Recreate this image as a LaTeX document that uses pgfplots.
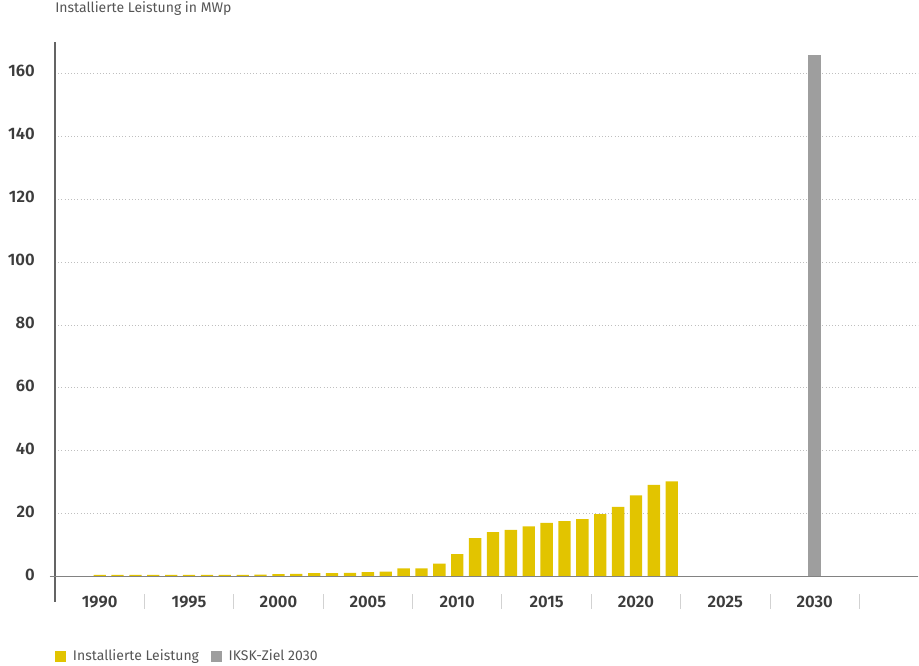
\documentclass[border=0pt]{standalone}
\usepackage{fontspec}
\setmainfont{Fira Sans}[BoldFont={Fira Sans SemiBold}]
\usepackage{pgfplots}
\usepackage{pgfplotstable}
\pgfplotsset{compat=1.18}

\definecolor{pvyellow}{RGB}{226,196,0}
\definecolor{targetgray}{RGB}{158,158,158}
\definecolor{axisgray}{RGB}{100,100,100}
\definecolor{baselinegray}{RGB}{130,130,130}
\definecolor{labelgray}{RGB}{85,85,85}
\definecolor{tickdark}{RGB}{60,60,60}

% Installed photovoltaic capacity per year (MWp)
\pgfplotstableread{
year mwp
1990 0.5
1991 0.5
1992 0.5
1993 0.5
1994 0.5
1995 0.5
1996 0.5
1997 0.5
1998 0.5
1999 0.55
2000 0.7
2001 0.8
2002 1.05
2003 1.05
2004 1.1
2005 1.4
2006 1.5
2007 2.6
2008 2.6
2009 4.1
2010 7.1
2011 12.2
2012 14.1
2013 14.8
2014 15.9
2015 17.0
2016 17.6
2017 18.2
2018 19.8
2019 22.1
2020 25.8
2021 29.1
2022 30.2
}\pvdata

\begin{document}
\begin{tikzpicture}
\begin{axis}[
  width=648pt, height=420pt, scale only axis,
  xmin=1987.5, xmax=2035.8, ymin=-8, ymax=170,
  clip=false,
  axis x line*=bottom, axis y line*=left,
  x axis line style={draw=none},
  y axis line style={-, draw=axisgray, line width=1.1pt},
  /pgf/number format/assume math mode=true,
  xtick={1990,1995,...,2030},
  xtick style={draw=none},
  xticklabel style={anchor=center, inner sep=0pt, font=\bfseries\fontsize{12.5}{14}\selectfont, text=tickdark, /pgf/number format/1000 sep={}},
  extra x ticks={1992.5,1997.5,2002.5,2007.5,2012.5,2017.5,2022.5,2027.5,2032.5},
  extra x tick labels={},
  extra x tick style={major tick length=11pt, tick align=center, grid=none,
    xtick style={draw=gray!35, line width=0.7pt}},
  ytick={0,20,...,160},
  ytick style={draw=none},
  ymajorgrids,
  grid style={dotted, gray!50, line width=0.5pt},
  yticklabel style={anchor=east, inner sep=0pt, xshift=-15pt, yshift=1.5pt, font=\bfseries\fontsize{12.5}{14}\selectfont, text=tickdark},
  title={Installierte Leistung in MWp},
  title style={at={(rel axis cs:0,1)}, anchor=west, inner sep=0pt, yshift=18.75pt, font=\fontsize{10.5}{12}\selectfont, text=labelgray},
  legend columns=2,
  legend style={at={(rel axis cs:0,-0.098)}, anchor=west, draw=none, fill=none, inner sep=0pt,
    font=\fontsize{10.5}{12}\selectfont, text=labelgray,
    /tikz/every odd column/.append style={column sep=3pt},
    /tikz/every even column/.append style={column sep=7pt}},
  legend image code/.code={\fill[#1] (0pt,-4.3pt) rectangle (8.3pt,4.3pt);},
]
\addplot[ybar, bar width=0.69, bar shift=0pt, fill=pvyellow, draw=none]
  table[x=year, y=mwp] {\pvdata};
\addlegendentry{Installierte Leistung}
\addplot[ybar, bar width=0.72, bar shift=0pt, fill=targetgray, draw=none]
  coordinates {(2030,166)};
\addlegendentry{IKSK-Ziel 2030}
% horizontal zero line, running a little past the y axis on the left
\draw[baselinegray, line width=0.9pt] (axis cs:1987.2,0) -- (axis cs:2035.8,0);
% page extent
\path (rel axis cs:-0.0637,1.075) rectangle (rel axis cs:1,-0.114);
\end{axis}
\end{tikzpicture}
\end{document}
